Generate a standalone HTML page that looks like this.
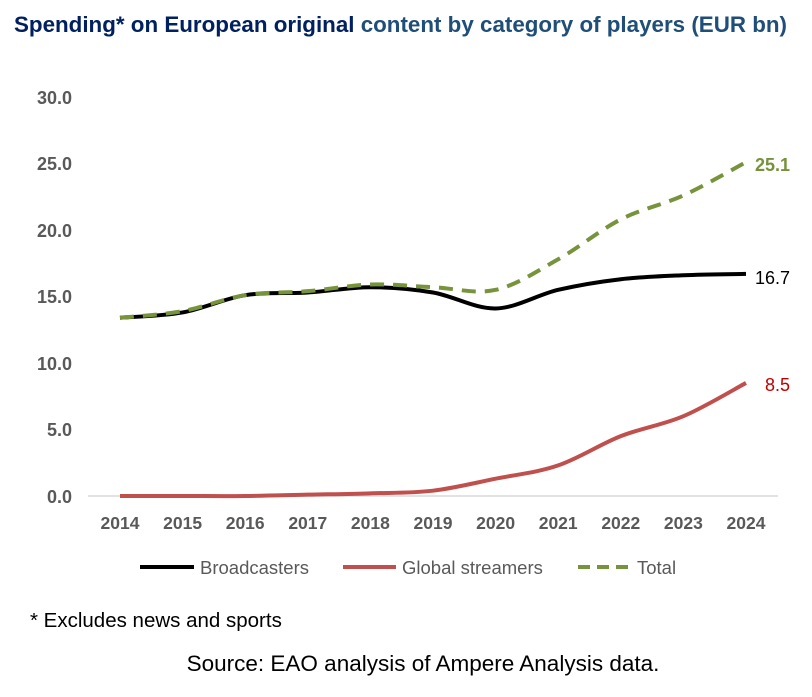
<!DOCTYPE html>
<html><head><meta charset="utf-8"><style>
body{margin:0;background:#fff;width:812px;height:692px;overflow:hidden;font-family:"Liberation Sans",sans-serif}
</style></head><body>
<svg id="s" width="812" height="692" xmlns="http://www.w3.org/2000/svg">
<text x="14" y="32" font-family="Liberation Sans Narrow, Liberation Sans, sans-serif" font-weight="bold" font-size="22" fill="#002060" textLength="773" lengthAdjust="spacingAndGlyphs">Spending* on European original <tspan fill="#1F4E79">content by category of players (EUR bn)</tspan></text>
<g font-family="Liberation Sans, sans-serif" font-weight="bold" font-size="18" fill="#595959" text-anchor="end">
<text x="72" y="503">0.0</text><text x="72" y="436">5.0</text><text x="72" y="370">10.0</text>
<text x="72" y="303">15.0</text><text x="72" y="237">20.0</text><text x="72" y="170">25.0</text><text x="72" y="104">30.0</text>
</g>
<line x1="88" y1="496" x2="778" y2="496" stroke="#d9d9d9" stroke-width="1.5"/>
<g id="xl" font-family="Liberation Sans, sans-serif" font-weight="bold" font-size="17.5" fill="#595959" text-anchor="middle"></g>
<g id="lines"></g>
<text x="755" y="284" font-size="18" fill="#000">16.7</text>
<text x="755" y="171" font-size="18" font-weight="bold" fill="#76923C">25.1</text>
<text x="765" y="391" font-size="18" fill="#C00000">8.5</text>
<g font-size="18.5" fill="#595959">
<line x1="140" y1="567" x2="194" y2="567" stroke="#000" stroke-width="4"/><text x="200" y="574">Broadcasters</text>
<line x1="343" y1="567" x2="396" y2="567" stroke="#C0504D" stroke-width="4"/><text x="402" y="574">Global streamers</text>
<line x1="578" y1="567" x2="632" y2="567" stroke="#77933C" stroke-width="4" stroke-dasharray="12,7"/><text x="637" y="574">Total</text>
</g>
<text x="30" y="627" font-size="20.5" fill="#000">* Excludes news and sports</text>
<text x="423" y="671" font-size="22.5" fill="#000" text-anchor="middle">Source: EAO analysis of Ampere Analysis data.</text>
</svg>
<script>
var X=i=>120+i*62.6, Y=v=>496-v*13.3;
var xl=document.getElementById('xl'),ns='http://www.w3.org/2000/svg';
for(var i=0;i<11;i++){var t=document.createElementNS(ns,'text');t.setAttribute('x',X(i));t.setAttribute('y',529);t.textContent=2014+i;xl.appendChild(t);}
function path(d){var p=d.map((v,i)=>[X(i),Y(v)]),s='M'+p[0];
for(var i=0;i<p.length-1;i++){var a=p[i-1]||p[i],b=p[i],c=p[i+1],e=p[i+2]||c;
s+=' C'+(b[0]+(c[0]-a[0])/6)+','+(b[1]+(c[1]-a[1])/6)+' '+(c[0]-(e[0]-b[0])/6)+','+(c[1]-(e[1]-b[1])/6)+' '+c;}return s;}
var L=document.getElementById('lines');
function add(d,col,dash){var e=document.createElementNS(ns,'path');e.setAttribute('d',path(d));e.setAttribute('fill','none');e.setAttribute('stroke',col);e.setAttribute('stroke-width',4);if(dash)e.setAttribute('stroke-dasharray','14,9');L.appendChild(e);}
add([0,0,0,0.1,0.2,0.4,1.3,2.3,4.5,6.0,8.5],'#C0504D');
add([13.4,13.8,15.1,15.3,15.7,15.3,14.1,15.5,16.3,16.6,16.7],'#000');
add([13.4,13.9,15.1,15.4,15.9,15.7,15.5,17.8,20.8,22.6,25.1],'#77933C',1);
</script>
</body></html>
